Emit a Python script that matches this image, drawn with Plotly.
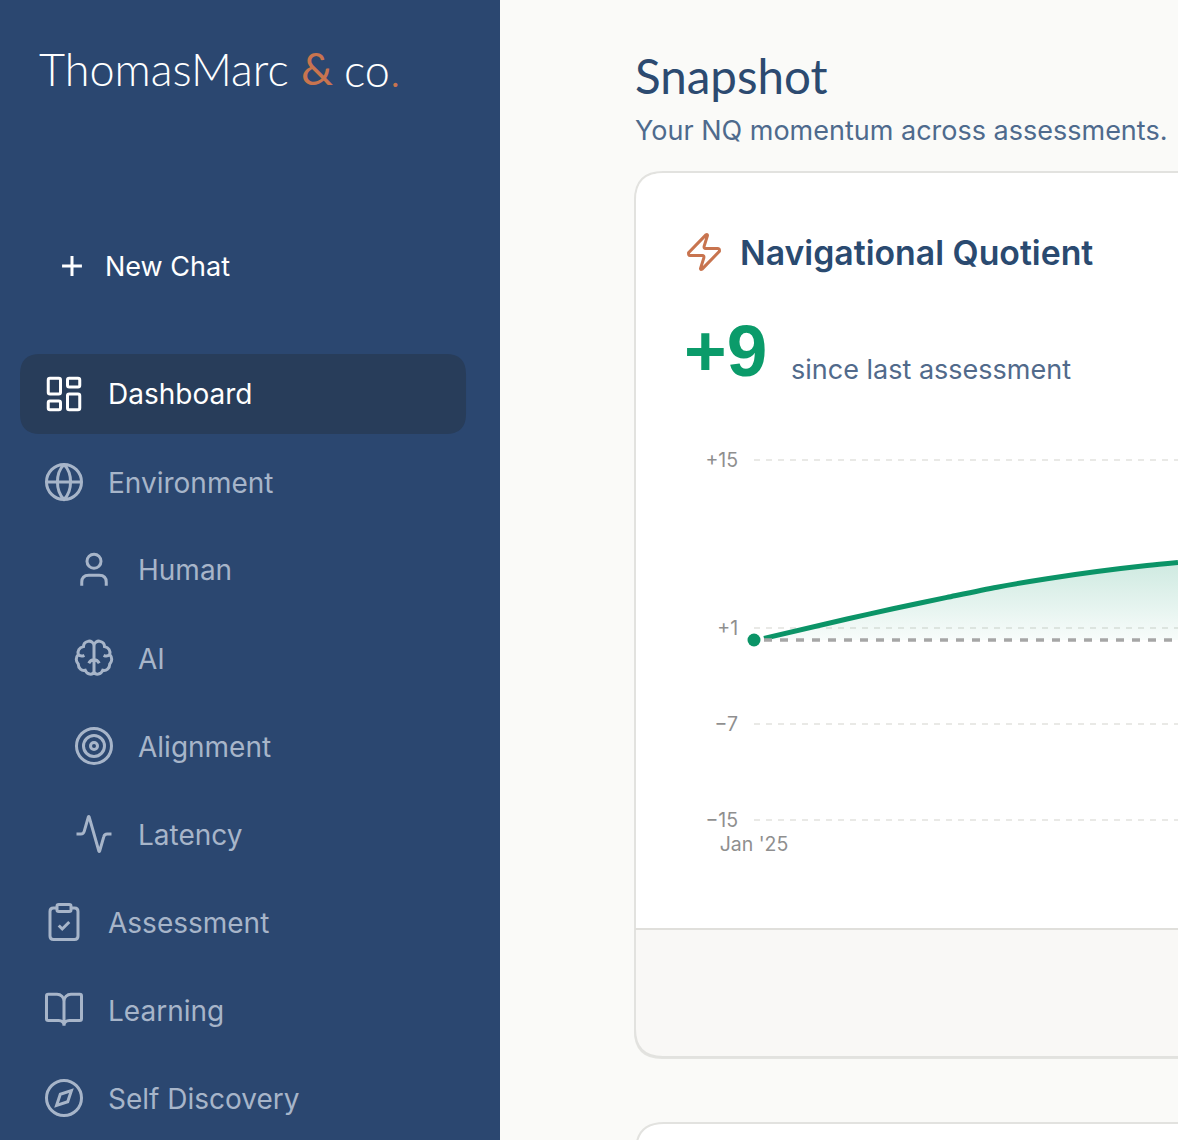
import re
import plotly.graph_objects as go

W, H = 1178, 1140

# chart values (x = days from the first assessment)
nq_days = [10, 93, 139, 193, 243, 293, 343, 393, 424]
nq_values = [0.14, 1.75, 2.6, 3.55, 4.4, 5.1, 5.7, 6.2, 6.45]
start_day = [0]
start_value = [0]
baseline_days = [10, 424]
baseline_values = [0, 0]
y_ticks = [15, 1, -7, -15]
y_tick_labels = ["+15", "+1", "\u22127", "\u221215"]
x_ticks = [0]
x_tick_labels = ["Jan '25"]

# sidebar rows
nav_labels = ["Environment", "Human", "AI", "Alignment", "Latency", "Assessment", "Learning", "Self Discovery"]
nav_indent = [0, 1, 1, 1, 1, 0, 0, 0]

NAVY = "#2B4770"
GREEN = "#0B9467"
ORANGE = "#C8744F"
MUTED = "#A7B5C9"
BODY = "Inter"


def to_paper(path):
    # numbers in an absolute path alternate x, y
    i = [0]

    def conv(m):
        v = float(m.group())
        i[0] += 1
        if i[0] % 2:
            return f"{v / W:.5f}"
        return f"{1 - v / H:.5f}"

    return re.sub(r"-?\d+\.?\d*", conv, path)


def rrect(x, y, w, h, r):
    return (f"M{x + r} {y}L{x + w - r} {y}Q{x + w} {y} {x + w} {y + r}L{x + w} {y + h - r}"
            f"Q{x + w} {y + h} {x + w - r} {y + h}L{x + r} {y + h}Q{x} {y + h} {x} {y + h - r}"
            f"L{x} {y + r}Q{x} {y} {x + r} {y}Z")


def circle(cx, cy, r):
    k = 0.5523 * r
    return (f"M{cx - r} {cy}C{cx - r} {cy - k} {cx - k} {cy - r} {cx} {cy - r}"
            f"C{cx + k} {cy - r} {cx + r} {cy - k} {cx + r} {cy}"
            f"C{cx + r} {cy + k} {cx + k} {cy + r} {cx} {cy + r}"
            f"C{cx - k} {cy + r} {cx - r} {cy + k} {cx - r} {cy}Z")


# icons on a 24 unit grid
ICONS = {
    "plus": "M5 12L19 12M12 5L12 19",
    "Dashboard": rrect(3, 3, 7, 9, 1) + rrect(14, 3, 7, 5, 1) + rrect(14, 12, 7, 9, 1) + rrect(3, 16, 7, 5, 1),
    "Environment": circle(12, 12, 10) + "M12 2C7 7 7 17 12 22C17 17 17 7 12 2M2 12L22 12",
    "Human": circle(12, 7, 4) + "M5 21L5 19Q5 15 9 15L15 15Q19 15 19 19L19 21",
    "AI": ("M12 5C12 3 10 2 8.5 2.5C6.5 3 6 4.5 6 5.5C3.5 6 2.5 8 3 10C1.5 11.5 1.5 14 3 15.5"
           "C3 18 5 19.5 7 19C8 21.5 11 22 12 20L12 5"
           "M12 5C12 3 14 2 15.5 2.5C17.5 3 18 4.5 18 5.5C20.5 6 21.5 8 21 10C22.5 11.5 22.5 14 21 15.5"
           "C21 18 19 19.5 17 19C16 21.5 13 22 12 20"
           "M12 13C10.5 13 9.5 14 9 15M12 13C13.5 13 14.5 14 15 15M3 10C4 11 5.5 11 6.5 10.5M21 10C20 11 18.5 11 17.5 10.5"),
    "Alignment": circle(12, 12, 10) + circle(12, 12, 6) + circle(12, 12, 2),
    "Latency": "M22 12L19.5 12Q18 12 17.6 13.5L15.2 21.8Q15 22.2 14.8 21.8L9.2 2.2Q9 1.8 8.8 2.2L6.4 10.5Q6 12 4.5 12L2 12",
    "Assessment": (rrect(8, 2, 8, 4, 1) + "M16 4L18 4Q20 4 20 6L20 20Q20 22 18 22L6 22Q4 22 4 20L4 6Q4 4 6 4L8 4"
                   "M9 14L11 16L15 12"),
    "Learning": ("M12 7L12 21M3 18Q2 18 2 17L2 4Q2 3 3 3L8 3C10.2 3 12 4.8 12 7C12 4.8 13.8 3 16 3L21 3"
                 "Q22 3 22 4L22 17Q22 18 21 18L15 18C13.3 18 12 19.3 12 21C12 19.3 10.7 18 9 18Z"),
    "Self Discovery": circle(12, 12, 10) + "M16.24 7.76L14.12 14.12L7.76 16.24L9.88 9.88Z",
    "zap": ("M4 14Q3 14 3.2 12.4L13.1 2.2Q14 1.8 14 2.6L12.1 8.6Q11.8 10 13 10L20 10Q21 10 20.8 11.6"
            "L10.9 21.8Q10 22.2 10 21.4L11.9 15.4Q12.2 14 11 14Z"),
}


def icon(name, cx, cy, color, size=42, width=3):
    s = size / 24
    i = [0]

    def conv(m):
        v = float(m.group())
        i[0] += 1
        if i[0] % 2:
            return f"{cx + (v - 12) * s:.2f}"
        return f"{cy + (v - 12) * s:.2f}"

    scaled = re.sub(r"-?\d+\.?\d*", conv, ICONS[name])
    return dict(type="path", path=to_paper(scaled), xref="paper", yref="paper", layer="below",
                line=dict(color=color, width=width), fillcolor="rgba(0,0,0,0)")


def box(path, fill, line=None, width=0):
    return dict(type="path", path=to_paper(path), xref="paper", yref="paper", layer="below",
                fillcolor=fill, line=dict(color=line or "rgba(0,0,0,0)", width=width))


def label(text, x, y, size, color, family=BODY, weight=400):
    # annotations keep a couple of px of padding, hence the -2
    return dict(text=text, x=(x - 2) / W, y=1 - y / H, xref="paper", yref="paper", xanchor="left",
                yanchor="middle", showarrow=False,
                font=dict(family=family, size=size, color=color, weight=weight))


shapes = [
    box(f"M0 0L500 0L500 {H}L0 {H}Z", NAVY),
    box(rrect(20, 354, 446, 80, 20), "#283D5A"),
    # outer card, shadow first
    box(rrect(634, 174, 700, 885, 28), "#E4E4E0"),
    box(rrect(635, 172, 700, 885, 28), "#F9F8F6", "#E2E2DF", 2),
    box("M636 201Q636 173 664 173L1240 173L1240 928L636 928Z", "#FFFFFF"),
    box("M635 928L1240 928L1240 930L635 930Z", "#E0DFDB"),
    # next card peeks in at the bottom
    box(rrect(636, 1123, 700, 200, 28), "#FFFFFF", "#E2E2DF", 2),
    icon("plus", 72, 266, "#FFFFFF", size=34),
    icon("Dashboard", 64, 394, "#FFFFFF"),
    icon("zap", 704, 252, ORANGE),
]

annotations = [
    label("ThomasMarc", 39, 69, 45, "#FFFFFF", "Lato", 300),
    label("&", 301, 68, 45, ORANGE, "Lato", 400),
    label(f"co<span style='color:{ORANGE}'>.</span>", 344, 70, 45, "#FFFFFF", "Lato", 300),
    label("New Chat", 105, 266, 27, "#FFFFFF"),
    label("Dashboard", 108, 394, 28, "#FFFFFF"),
    label("Snapshot", 635, 76, 47.5, "#2C4A70", "Lato", 400),
    label("Your NQ momentum across assessments.", 635, 130, 27, "#4E6A8D"),
    label("Navigational Quotient", 740, 252, 33.8, "#2A4A70", BODY, 600),
    label("+9", 684, 351, 73, "#0B9B6A", "Liberation Sans", 700),
    label("since last assessment", 791, 369, 27, "#516A8B"),
]

for i, name in enumerate(nav_labels):
    row_y = 482 + 88 * i
    indent = 30 * nav_indent[i]
    shapes.append(icon(name, 64 + indent, row_y, MUTED))
    annotations.append(label(name, 108 + indent, row_y + 0.5, 28, MUTED))

fig = go.Figure()
fig.add_trace(go.Scatter(
    x=nq_days, y=nq_values, mode="lines", line=dict(color=GREEN, width=5, shape="spline", smoothing=0.8),
    fill="tozeroy", fillcolor="rgba(0,0,0,0)",
    fillgradient=dict(type="vertical", colorscale=[[0, "rgba(11,148,103,0.03)"], [1, "rgba(11,148,103,0.2)"]]),
    showlegend=False, hoverinfo="skip"))
fig.add_trace(go.Scatter(
    x=baseline_days, y=baseline_values, mode="lines",
    line=dict(color="#A6A6A6", width=3.5, dash="8px,8px"), showlegend=False, hoverinfo="skip"))
fig.add_trace(go.Scatter(
    x=start_day, y=start_value, mode="markers", marker=dict(color=GREEN, size=13),
    cliponaxis=False, showlegend=False, hoverinfo="skip"))

# range runs half a unit past the outer ticks, plotly drops gridlines sitting on the ends
fig.update_layout(
    width=W, height=H, margin=dict(l=0, r=0, t=0, b=0), autosize=False,
    paper_bgcolor="#FAFAF8", plot_bgcolor="rgba(0,0,0,0)",
    shapes=shapes, annotations=annotations, showlegend=False,
    xaxis=dict(domain=[754 / W, 1], range=[0, 424], tickvals=x_ticks, ticktext=x_tick_labels, automargin=False,
               showgrid=False, zeroline=False, showline=False, ticks="outside", ticklen=1,
               tickcolor="rgba(0,0,0,0)", tickfont=dict(family=BODY, size=19.5, color="#8F8F8F")),
    yaxis=dict(domain=[1 - 826 / H, 1 - 454 / H], range=[-15.5, 15.5], tickvals=y_ticks, ticktext=y_tick_labels,
               automargin=False, showgrid=True, gridcolor="#E9E9E6", gridwidth=2, griddash="6px,6px", zeroline=False,
               showline=False, ticks="outside", ticklen=11, tickcolor="rgba(0,0,0,0)",
               tickfont=dict(family=BODY, size=19.5, color="#8F8F8F")),
)

fig.write_html("out.html", config={"displayModeBar": False},
               post_script="document.body.style.margin='0';document.body.style.overflow='hidden';")
